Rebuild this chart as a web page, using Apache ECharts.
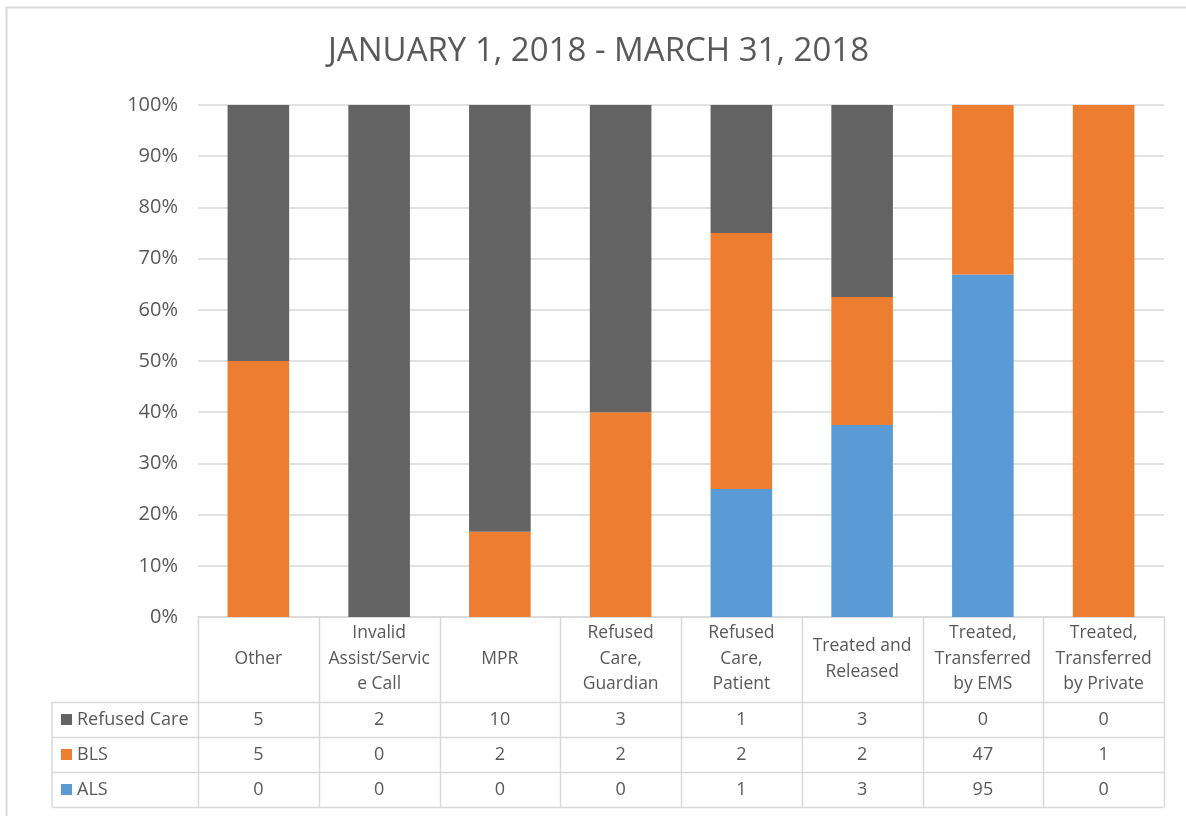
<!DOCTYPE html>
<html>
<head>
<meta charset="utf-8">
<script src="https://cdn.jsdelivr.net/npm/echarts@6/dist/echarts.min.js"></script>
<style>html,body{margin:0;padding:0;background:#fff}#c{width:1186px;height:816px}</style>
</head>
<body>
<div id="c"></div>
<script>
var title = 'JANUARY 1, 2018 - MARCH 31, 2018';
var categories = ['Other', 'Invalid\nAssist/Servic\ne Call', 'MPR', 'Refused\nCare,\nGuardian', 'Refused\nCare,\nPatient', 'Treated and\nReleased', 'Treated,\nTransferred\nby EMS', 'Treated,\nTransferred\nby Private'];
var refusedCare = [5, 2, 10, 3, 1, 3, 0, 0];
var bls = [5, 0, 2, 2, 2, 2, 47, 1];
var als = [0, 0, 0, 0, 1, 3, 95, 0];
var yTicks = [0, 10, 20, 30, 40, 50, 60, 70, 80, 90, 100];

var FONT = '"Open Sans", "Noto Sans", sans-serif';
var TXT = '#595959';
var LINE = '#d9d9d9';
var colors = { refused: '#636363', bls: '#ED7D31', als: '#5B9BD5' };

var totals = categories.map(function (c, i) { return refusedCare[i] + bls[i] + als[i]; });
function pct(arr) { return arr.map(function (v, i) { return totals[i] ? v / totals[i] * 100 : 0; }); }

var tableRows = [
  { name: 'Refused Care', color: colors.refused, values: refusedCare },
  { name: 'BLS', color: colors.bls, values: bls },
  { name: 'ALS', color: colors.als, values: als }
];

var chart = echarts.init(document.getElementById('c'), null, { renderer: 'canvas' });
var option = {
  animation: false,
  backgroundColor: '#fff',
  title: {
    text: title, left: 323, top: 30,
    textStyle: { fontFamily: FONT, fontSize: 33, fontWeight: 'normal', color: TXT }
  },
  grid: { left: 198, right: 22, top: 105, bottom: 199, containLabel: false },
  xAxis: {
    type: 'category', data: categories,
    axisLine: { show: true, lineStyle: { color: LINE, width: 1.5 } },
    axisTick: { show: false },
    axisLabel: {
      interval: 0, margin: 42, verticalAlign: 'middle', align: 'center',
      fontFamily: FONT, fontSize: 17.5, color: TXT, lineHeight: 25.5
    }
  },
  yAxis: {
    type: 'value', min: 0, max: 100, interval: 10,
    axisLine: { show: false }, axisTick: { show: false },
    axisLabel: { formatter: '{value}%', margin: 20, fontFamily: FONT, fontSize: 20, color: TXT },
    splitLine: { lineStyle: { color: LINE, width: 1.5 } }
  },
  series: [
    { name: 'ALS', type: 'bar', stack: 's', barWidth: '51%', data: pct(als), itemStyle: { color: colors.als } },
    { name: 'BLS', type: 'bar', stack: 's', data: pct(bls), itemStyle: { color: colors.bls } },
    { name: 'Refused Care', type: 'bar', stack: 's', data: pct(refusedCare), itemStyle: { color: colors.refused } }
  ]
};
chart.setOption(option);

// Build data table beneath the chart using the axis scale
var rect = chart.getModel().getComponent('grid').coordinateSystem.getRect();
var n = categories.length;
var band = rect.width / n;
var tableTop = rect.y + rect.height;
var headerH = 85;
var rowH = 35;
var legendLeft = 52;
var els = [];
var lineStyle = { stroke: LINE, lineWidth: 1.5 };
// outer chart border (top & left)
els.push({ type: 'polyline', shape: { points: [[6.5, 820], [6.5, 7.5], [1190, 7.5]] }, style: { stroke: LINE, lineWidth: 2, fill: null }, silent: true });
var bottom = tableTop + headerH + rowH * tableRows.length;
// vertical lines at column boundaries
for (var i = 0; i <= n; i++) {
  var x = Math.round(rect.x + band * i) + 0.5;
  els.push({ type: 'line', shape: { x1: x, y1: tableTop, x2: x, y2: bottom }, style: lineStyle, silent: true });
}
// left border of legend column
els.push({ type: 'line', shape: { x1: legendLeft, y1: tableTop + headerH, x2: legendLeft, y2: bottom }, style: lineStyle, silent: true });
// horizontal lines
for (var r = 0; r <= tableRows.length; r++) {
  var y = Math.round(tableTop + headerH + rowH * r) + 0.5;
  els.push({ type: 'line', shape: { x1: legendLeft, y1: y, x2: rect.x + rect.width, y2: y }, style: lineStyle, silent: true });
}
tableRows.forEach(function (row, r) {
  var cy = tableTop + headerH + rowH * r + rowH / 2;
  els.push({ type: 'rect', shape: { x: 61, y: cy - 5.5, width: 11, height: 11 }, style: { fill: row.color }, silent: true });
  els.push({ type: 'text', x: 77, y: cy, style: { text: row.name, font: '18px ' + FONT, fill: TXT, textVerticalAlign: 'middle', textAlign: 'left' }, silent: true });
  row.values.forEach(function (v, i) {
    var cx = chart.convertToPixel({ xAxisIndex: 0 }, i);
    els.push({ type: 'text', x: cx, y: cy, style: { text: String(v), font: '18px ' + FONT, fill: TXT, textVerticalAlign: 'middle', textAlign: 'center' }, silent: true });
  });
});
chart.setOption({ graphic: { elements: els } });
</script>
</body>
</html>
